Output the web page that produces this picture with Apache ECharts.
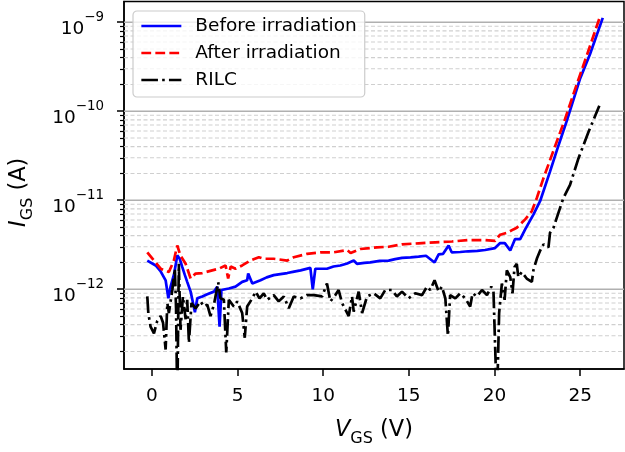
<!DOCTYPE html>
<html><head><meta charset="utf-8">
<script src="https://cdn.jsdelivr.net/npm/echarts@6/dist/echarts.min.js"></script>
<style>html,body{margin:0;padding:0;background:#fff}#c{width:625px;height:452px}</style>
</head><body><div id="c"></div>
<script>
const seriesNames = ['Before irradiation', 'After irradiation', 'RILC'];
const xTicks = [0, 5, 10, 15, 20, 25];
const yMajorTicks = [1e-12, 1e-11, 1e-10, 1e-9];
const yMinorTicks = [2e-13,3e-13,4e-13,5e-13,6e-13,7e-13,8e-13,9e-13,
  2e-12,3e-12,4e-12,5e-12,6e-12,7e-12,8e-12,9e-12,
  2e-11,3e-11,4e-11,5e-11,6e-11,7e-11,8e-11,9e-11,
  2e-10,3e-10,4e-10,5e-10,6e-10,7e-10,8e-10,9e-10];

const vBefore = [-0.27,0.22,0.5,0.8,0.96,1.09,1.3,1.48,1.62,1.77,1.92,2.06,2.26,2.4,2.51,2.65,2.94,3.23,3.62,3.81,3.95,4.06,4.49,4.88,5.27,5.56,5.62,5.86,6.34,6.7,7.11,7.5,7.9,8.3,8.68,9.25,9.39,9.54,10.22,10.6,11.0,11.4,11.78,11.97,12.4,12.75,13.3,13.82,14.2,14.6,15.1,15.57,16.0,16.5,16.74,17.0,17.32,17.5,18.0,18.47,19.0,19.45,20.03,20.33,20.6,20.92,21.2,21.5,21.79,22.27,22.66,23.24,23.73,24.22,24.8,25.0,25.58,26.32];
const iBefore = [2.1e-12,1.85e-12,1.6e-12,1.26e-12,7.9e-13,1.07e-12,1.5e-12,2.4e-12,2.2e-12,1.78e-12,1.45e-12,1.21e-12,9.4e-13,7e-13,5.5e-13,7.9e-13,8.3e-13,8.8e-13,9.4e-13,1.07e-12,3.8e-13,9.8e-13,1.02e-12,1.07e-12,1.21e-12,1.26e-12,1.5e-12,1.16e-12,1.26e-12,1.36e-12,1.44e-12,1.48e-12,1.52e-12,1.58e-12,1.63e-12,1.74e-12,1.0e-12,1.7e-12,1.7e-12,1.8e-12,1.85e-12,1.95e-12,2.1e-12,1.93e-12,1.98e-12,2.0e-12,2.08e-12,2.1e-12,2.18e-12,2.25e-12,2.28e-12,2.33e-12,2.38e-12,2.0e-12,2.46e-12,2.5e-12,3.1e-12,2.6e-12,2.62e-12,2.67e-12,2.7e-12,2.76e-12,2.9e-12,3.3e-12,3.3e-12,2.72e-12,3.66e-12,3.66e-12,4.7e-12,6.9e-12,9.75e-12,2.1e-11,4.1e-11,7.8e-11,1.76e-10,2.34e-10,4.4e-10,1.12e-9];

const vAfter = [-0.27,0.12,0.51,0.99,1.28,1.48,1.66,1.97,2.26,2.55,2.94,3.52,3.9,4.3,4.45,4.6,4.88,5.27,5.75,6.24,6.53,7.11,7.9,8.28,9.06,9.84,10.61,11.39,11.6,12.17,13.14,13.82,14.6,15.57,16.54,17.52,18.49,19.45,20.04,20.33,20.72,21.1,21.3,21.79,22.18,22.47,22.86,23.44,24.12,24.7,25.4,26.12];
const iAfter = [2.6e-12,2.1e-12,1.7e-12,1.56e-12,2.1e-12,3.1e-12,2.4e-12,1.93e-12,1.32e-12,1.5e-12,1.52e-12,1.63e-12,1.7e-12,1.85e-12,1.32e-12,1.8e-12,1.7e-12,1.85e-12,2.1e-12,2.29e-12,2.2e-12,2.2e-12,2.1e-12,2.29e-12,2.5e-12,2.6e-12,2.6e-12,2.76e-12,2.55e-12,2.83e-12,2.96e-12,3.0e-12,3.2e-12,3.28e-12,3.36e-12,3.44e-12,3.57e-12,3.57e-12,3.5e-12,4.1e-12,4.3e-12,4.7e-12,4.9e-12,6.1e-12,7.55e-12,1.06e-11,1.77e-11,3.6e-11,8.2e-11,1.76e-10,4.3e-10,1.1e-9];

const vRilc = [-0.27,-0.21,-0.08,0.12,0.31,0.51,0.65,0.8,0.9,0.99,1.19,1.34,1.41,1.48,1.57,1.67,1.81,1.97,2.06,2.16,2.31,2.55,2.84,3.03,3.23,3.42,3.62,3.87,4.0,4.2,4.34,4.49,4.78,4.98,5.27,5.42,5.56,5.86,6.06,6.28,6.53,6.73,7.11,7.4,7.7,7.99,8.28,8.67,9.06,9.45,9.94,10.22,10.42,10.71,10.9,11.1,11.49,11.68,11.78,12.07,12.27,12.56,12.95,13.33,13.62,14.01,14.3,14.6,14.98,15.37,15.77,16.06,16.25,16.5,16.74,16.93,17.13,17.28,17.41,17.71,18.0,18.29,18.58,18.72,18.97,19.27,19.56,19.81,19.94,20.14,20.27,20.43,20.59,20.72,20.82,20.92,21.05,21.17,21.3,21.39,21.59,21.88,22.18,22.27,22.47,22.66,22.86,23.15,23.24,23.44,23.73,24.02,24.41,24.9,25.48,26.12];
const iRilc = [8.3e-13,5.4e-13,3.8e-13,3.2e-13,4.4e-13,5.0e-13,4.2e-13,2.1e-13,7.0e-13,5.4e-13,9.8e-13,1.7e-12,6e-13,5e-14,1.93e-12,3.5e-13,8.3e-13,4.6e-13,7.6e-13,2.5e-13,7e-13,6.1e-13,7.3e-13,6.4e-13,6.7e-13,5e-13,6.7e-13,1.2e-12,7.9e-13,7.6e-13,1.95e-13,7.6e-13,6.4e-13,7.3e-13,5.4e-13,2.85e-13,6.4e-13,7.9e-13,9.4e-13,7.9e-13,9e-13,7.6e-13,8.6e-13,7.3e-13,8.3e-13,6.1e-13,8.3e-13,7.9e-13,8.6e-13,8.6e-13,8.3e-13,1.16e-12,7.3e-13,8.6e-13,9.8e-13,7e-13,5e-13,8.3e-13,5.6e-13,9.4e-13,5.4e-13,8.3e-13,9e-13,7.9e-13,9.8e-13,9.8e-13,8.3e-13,9.4e-13,7.9e-13,9e-13,8.6e-13,1.07e-12,9.8e-13,1.26e-12,9.4e-13,1.07e-12,7.9e-13,3e-13,8.6e-13,7.9e-13,9e-13,7.9e-13,6.4e-13,9e-13,8.3e-13,9.8e-13,8.6e-13,1.07e-12,9.4e-13,5e-14,5.4e-13,1.16e-12,7.6e-13,1.63e-12,1.7e-12,1.37e-12,9e-13,1.78e-12,1.93e-12,1.37e-12,1.56e-12,1.32e-12,1.21e-12,1.63e-12,2.2e-12,2.7e-12,3.2e-12,2.96e-12,4.3e-12,4.9e-12,7.2e-12,1.06e-11,1.49e-11,2.95e-11,5.8e-11,1.15e-10];

const FONT = 'DejaVu Sans';
const zip = (a, b) => a.map((v, i) => [v, b[i]]);
const xMin = -1.63, xMax = 27.56;
const yMin = 1.27e-13, yMax = 1.71e-9;

const chart = echarts.init(document.getElementById('c'), null, {renderer: 'canvas'});
const supFmt = v => {
  const e = Math.round(Math.log10(v));
  return '{b|10}{s|' + (e < 0 ? '\u2212' + (-e) : e) + '}';
};
const nameRich = {
  i: {fontFamily: FONT, fontSize: 22.5, fontStyle: 'italic', color: '#000', lineHeight: 28, verticalAlign: 'top'},
  s: {fontFamily: FONT, fontSize: 16, color: '#000', lineHeight: 16, verticalAlign: 'bottom'},
  n: {fontFamily: FONT, fontSize: 22.5, color: '#000', lineHeight: 28, verticalAlign: 'top'}
};

// horizontal grid lines, drawn through the axes' scales
const gridSeries = [];
yMajorTicks.forEach(v => gridSeries.push({
  type: 'line', silent: true, z: 1, symbol: 'none', showSymbol: false, animation: false,
  data: [[xMin, v], [xMax, v]], lineStyle: {color: '#b0b0b0', width: 1.4, type: 'solid'}
}));
yMinorTicks.forEach(v => gridSeries.push({
  type: 'line', silent: true, z: 1, symbol: 'none', showSymbol: false, animation: false,
  data: [[xMin, v], [xMax, v]], lineStyle: {color: '#cfcfcf', width: 1.1, type: [4, 2.5]}
}));

const LW = 2.7;
chart.setOption({
  animation: false,
  grid: {left: 123.5, right: 1, top: 1.5, bottom: 79.5, show: true, borderColor: '#000', borderWidth: 1.5, backgroundColor: 'transparent'},
  legend: {
    orient: 'vertical', left: 133, top: 11,
    padding: [4, 8, 6, 7], itemWidth: 40, itemHeight: 14, itemGap: 5,
    borderColor: '#cccccc', borderWidth: 1.2, borderRadius: 4,
    backgroundColor: 'rgba(255,255,255,0.8)',
    itemStyle: {opacity: 0, borderWidth: 0},
    lineStyle: {width: LW},
    textStyle: {fontFamily: FONT, fontSize: 18.5, color: '#000', lineHeight: 22, padding: [0, 0, 0, 9]},
    data: seriesNames
  },
  xAxis: {
    type: 'value', min: xMin, max: xMax,
    axisLine: {show: true, onZero: false, lineStyle: {color: '#000', width: 1.5}},
    axisTick: {show: true, customValues: xTicks, length: 7, lineStyle: {color: '#000', width: 1.5}},
    axisLabel: {customValues: xTicks, margin: 18, fontFamily: FONT, fontSize: 18.5, color: '#000'},
    splitLine: {show: false},
    name: '{i|V}{s|GS}{n| (V)}', nameLocation: 'middle', nameGap: 50,
    nameTextStyle: {rich: nameRich}
  },
  yAxis: [{
    type: 'log', logBase: 10, min: yMin, max: yMax,
    axisLine: {show: true, onZero: false, lineStyle: {color: '#000', width: 1.5}},
    axisTick: {show: true, customValues: yMajorTicks, length: 7, lineStyle: {color: '#000', width: 1.5}},
    axisLabel: {
      customValues: yMajorTicks, margin: 20, formatter: supFmt, padding: [5, 0, 0, 0],
      rich: {
        b: {fontFamily: FONT, fontSize: 18.5, color: '#000', lineHeight: 27, verticalAlign: 'bottom'},
        s: {fontFamily: FONT, fontSize: 13.4, color: '#000', lineHeight: 12, verticalAlign: 'top'}
      }
    },
    splitLine: {show: false},
    name: '{i|I}{s|GS}{n| (A)}', nameLocation: 'middle', nameRotate: 90, nameGap: 88,
    nameTextStyle: {rich: nameRich, padding: [0, 14, 0, 0]}
  }, {
    type: 'log', logBase: 10, min: yMin, max: yMax, position: 'left',
    axisLine: {show: false, onZero: false},
    axisTick: {show: true, customValues: yMinorTicks, length: 4, lineStyle: {color: '#000', width: 1.2}},
    axisLabel: {show: false},
    splitLine: {show: false}
  }],
  series: gridSeries.concat([
    {
      name: seriesNames[0], type: 'line', data: zip(vBefore, iBefore), symbol: 'none', showSymbol: false,
      lineStyle: {color: '#0000ff', width: LW, type: 'solid'}, itemStyle: {color: '#0000ff'}, z: 2
    },
    {
      name: seriesNames[1], type: 'line', data: zip(vAfter, iAfter), symbol: 'none', showSymbol: false,
      lineStyle: {color: '#ff0000', width: LW, type: [9.8, 4.2]}, itemStyle: {color: '#ff0000'}, z: 3
    },
    {
      name: seriesNames[2], type: 'line', data: zip(vRilc, iRilc), symbol: 'none', showSymbol: false,
      lineStyle: {color: '#000000', width: LW, type: [16.6, 4.2, 2.6, 4.2]}, itemStyle: {color: '#000000'}, z: 4
    }
  ])
});
</script></body></html>
